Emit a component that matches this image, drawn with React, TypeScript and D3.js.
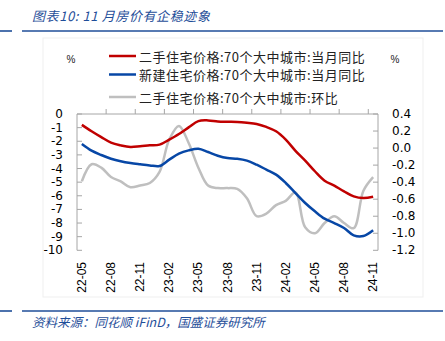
import React from "react";
import * as d3 from "d3";

const categories = [
  "22-05","22-06","22-07","22-08","22-09","22-10","22-11","22-12",
  "23-01","23-02","23-03","23-04","23-05","23-06","23-07","23-08","23-09","23-10","23-11","23-12",
  "24-01","24-02","24-03","24-04","24-05","24-06","24-07","24-08","24-09","24-10","24-11",
];
const labelCategories = ["22-05","22-08","22-11","23-02","23-05","23-08","23-11","24-02","24-05","24-08","24-11"];

const secondHandYoY = [
  -0.8, -1.27, -1.7, -2.1, -2.3, -2.42, -2.37, -2.3,
  -2.25, -1.88, -1.47, -0.98, -0.52, -0.47, -0.55, -0.57, -0.58, -0.64, -0.73, -0.95,
  -1.27, -1.88, -2.7, -3.42, -4.2, -4.89, -5.26, -5.67, -6.04, -6.16, -6.07,
];
const newHomeYoY = [
  -2.2, -2.69, -3.01, -3.28, -3.47, -3.6, -3.69, -3.77,
  -3.82, -3.35, -2.91, -2.67, -2.55, -2.79, -3.06, -3.23, -3.28, -3.42, -3.72, -4.08,
  -4.45, -5.06, -5.8, -6.53, -7.14, -7.68, -8.0, -8.36, -8.9, -8.95, -8.53,
];
const secondHandMoM = [
  -0.39, -0.19, -0.23, -0.34, -0.39, -0.46, -0.44, -0.41,
  -0.28, 0.1, 0.26, 0.06, -0.23, -0.44, -0.47, -0.47, -0.48, -0.59, -0.8, -0.77,
  -0.67, -0.62, -0.52, -0.93, -1.0, -0.88, -0.8, -0.88, -0.94, -0.5, -0.34,
];

const leftTicks = [0, -1, -2, -3, -4, -5, -6, -7, -8, -9, -10];
const rightTicks = [0.4, 0.2, 0.0, -0.2, -0.4, -0.6, -0.8, -1.0, -1.2];

const seriesNames = [
  "二手住宅价格:70个大中城市:当月同比",
  "新建住宅价格:70个大中城市:当月同比",
  "二手住宅价格:70个大中城市:环比",
];
const seriesColors = ["#C00000", "#0747A6", "#BFBFBF"];

const W = 445, H = 341;
const plotLeft = 77, plotRight = 378, plotTop = 114, plotBottom = 250.3;
const titleBlue = "#1F4E99";
const axisColor = "#A6A6A6";
const numFont = "'Liberation Sans', Arial, sans-serif";
const yFont = "'DejaVu Sans', Verdana, sans-serif";
const cjkFont = "'Noto Sans CJK SC', sans-serif";

export default function App() {
  const x = d3.scaleBand<string>().domain(categories).range([plotLeft, plotRight]).padding(0);
  const bw = x.bandwidth();
  const cx = (c: string) => (x(c) as number) + bw / 2;
  const yL = d3.scaleLinear().domain([-10, 0]).range([plotBottom, plotTop]);
  const yR = d3.scaleLinear().domain([-1.2, 0.4]).range([plotBottom, plotTop]);

  const lineL = d3.line<number>()
    .x((_, i) => cx(categories[i]))
    .y((d) => yL(d))
    .curve(d3.curveCatmullRom.alpha(0.5));
  const lineR = d3.line<number>()
    .x((_, i) => cx(categories[i]))
    .y((d) => yR(d))
    .curve(d3.curveCatmullRom.alpha(0.5));

  const boundaryTicks = d3.range(3, categories.length, 3).map((i) => plotLeft + i * bw);

  const legendRows = [56, 74.5, 97];

  return (
    <svg width={W} height={H} style={{ position: "absolute", left: 0, top: 0, background: "#fff" }}>
      {/* title */}
      <text x={32} y={21} fontFamily={cjkFont} fontSize={13} fontStyle="italic" fill={titleBlue}
        letterSpacing={0.6}>图表10: 11 月房价有企稳迹象</text>
      <line x1={0} x2={12} y1={31} y2={31} stroke={titleBlue} strokeWidth={1.6} />
      <line x1={22} x2={443} y1={31} y2={31} stroke={titleBlue} strokeWidth={1.6} />

      {/* faint chart border */}
      <rect x={43} y={38} width={380} height={259} fill="none" stroke="#EFEFEF" strokeWidth={1} />

      {/* unit labels */}
      <text x={71} y={63} fontFamily={numFont} fontSize={10} textAnchor="middle" fill="#222">%</text>
      <text x={395} y={63} fontFamily={numFont} fontSize={10} textAnchor="middle" fill="#222">%</text>

      {/* legend */}
      {seriesNames.map((name, i) => (
        <g key={name}>
          <line x1={109} x2={136} y1={legendRows[i]} y2={legendRows[i]} stroke={seriesColors[i]} strokeWidth={2.5} />
          <text x={139} y={legendRows[i]} dominantBaseline="central" fontFamily={cjkFont} fontSize={13}
            letterSpacing={0.5} fill="#222">{name}</text>
        </g>
      ))}

      {/* axes */}
      <line x1={plotLeft} x2={plotRight} y1={plotTop} y2={plotTop} stroke={axisColor} strokeWidth={1} />
      {boundaryTicks.map((bx, i) => (
        <line key={"bt" + i} x1={bx} x2={bx} y1={plotTop} y2={plotTop - 5} stroke={axisColor} strokeWidth={1} />
      ))}
      <line x1={plotLeft} x2={plotLeft} y1={plotTop} y2={plotBottom} stroke={axisColor} strokeWidth={1} />
      {leftTicks.map((t) => (
        <g key={"l" + t}>
          <line x1={plotLeft} x2={plotLeft + 5} y1={yL(t)} y2={yL(t)} stroke={axisColor} strokeWidth={1} />
          <text x={63} y={yL(t)} dominantBaseline="central" textAnchor="end" fontFamily={yFont} fontSize={12} fill="#000">
            {String(t)}
          </text>
        </g>
      ))}
      <line x1={plotRight} x2={plotRight} y1={plotTop} y2={plotBottom} stroke={axisColor} strokeWidth={1} />
      {rightTicks.map((t) => (
        <g key={"r" + t}>
          <line x1={plotRight - 5} x2={plotRight} y1={yR(t)} y2={yR(t)} stroke={axisColor} strokeWidth={1} />
          <text x={392} y={yR(t)} dominantBaseline="central" textAnchor="start" fontFamily={yFont} fontSize={12} fill="#000">
            {t.toFixed(1)}
          </text>
        </g>
      ))}

      {/* x labels */}
      {labelCategories.map((c) => (
        <text key={c} transform={`translate(${cx(c)},262) rotate(-90)`} textAnchor="end" dominantBaseline="central"
          fontFamily={numFont} fontSize={12} fill="#000">{c}</text>
      ))}

      {/* series */}
      <path d={lineR(secondHandMoM) || ""} fill="none" stroke={seriesColors[2]} strokeWidth={2.5} />
      <path d={lineL(newHomeYoY) || ""} fill="none" stroke={seriesColors[1]} strokeWidth={2.5} />
      <path d={lineL(secondHandYoY) || ""} fill="none" stroke={seriesColors[0]} strokeWidth={2.5} />

      {/* footer */}
      <line x1={0} x2={12} y1={311} y2={311} stroke={titleBlue} strokeWidth={1.6} />
      <line x1={22} x2={443} y1={311} y2={311} stroke={titleBlue} strokeWidth={1.6} />
      <text x={32} y={327} fontFamily={cjkFont} fontSize={12.5} fontStyle="italic" fill={titleBlue}>
        资料来源：同花顺 iFinD，国盛证券研究所
      </text>
    </svg>
  );
}
